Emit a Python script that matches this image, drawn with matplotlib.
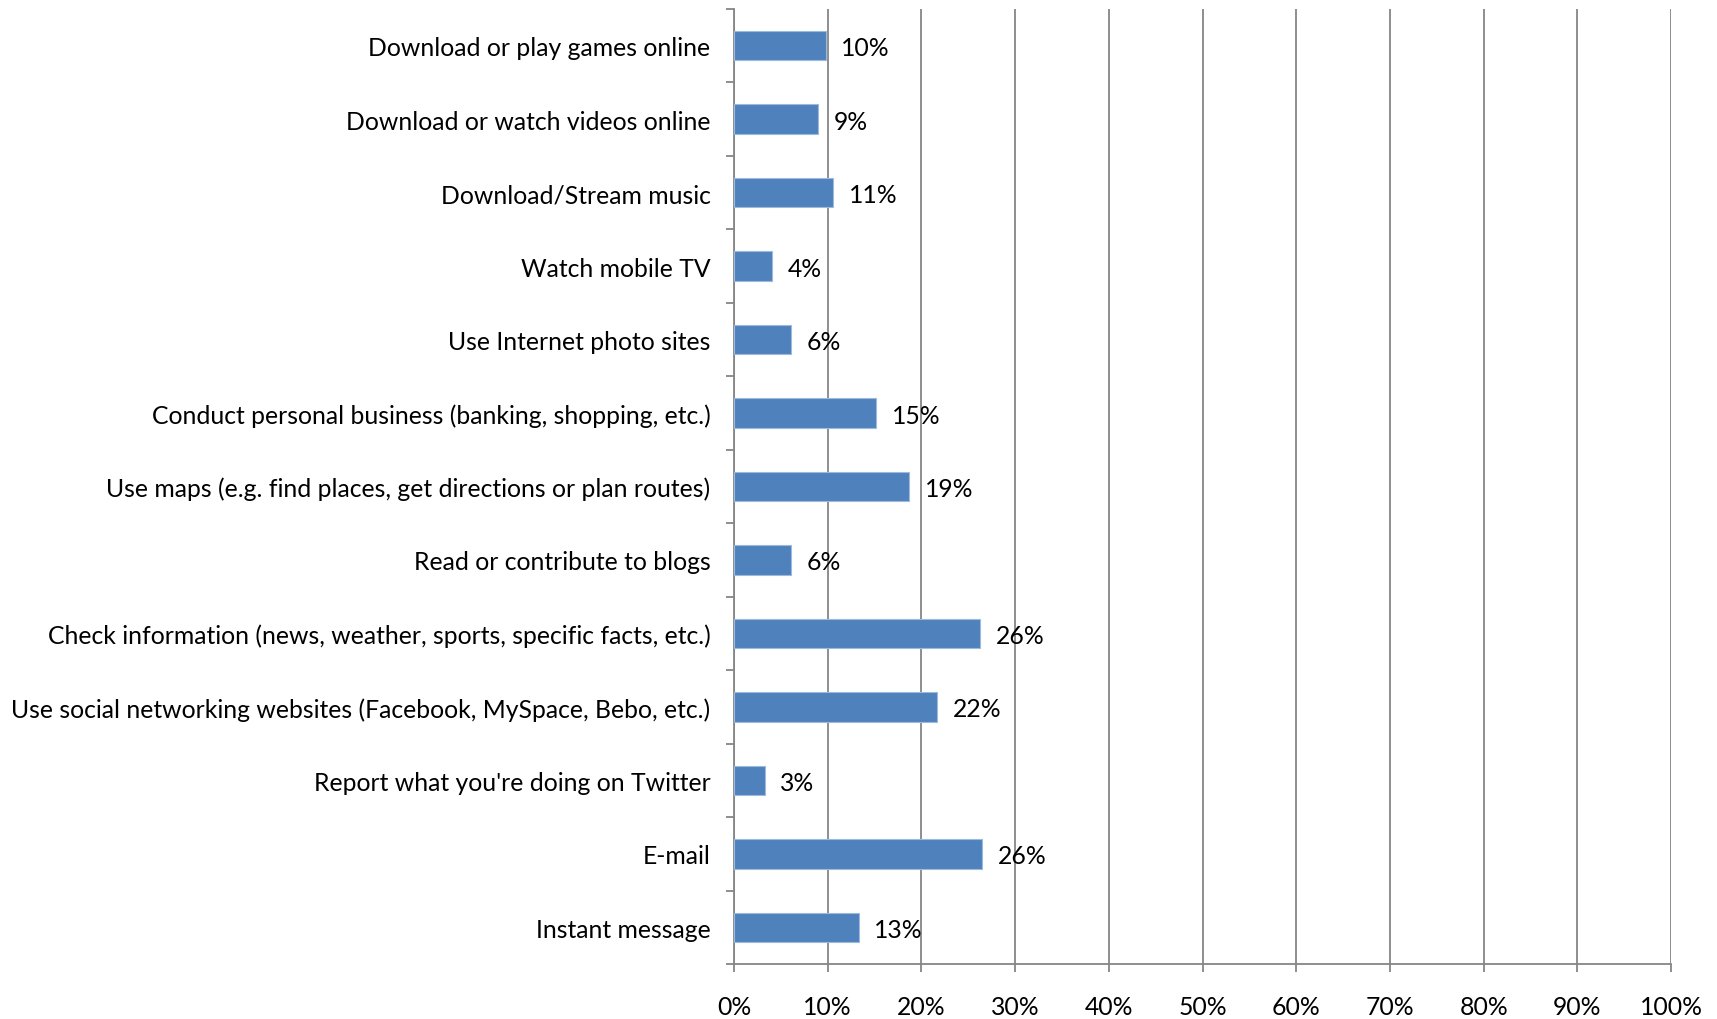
import numpy as np
import matplotlib.pyplot as plt
from matplotlib.ticker import FixedLocator, PercentFormatter

# categories from top to bottom
categories = [
    "Download or play games online",
    "Download or watch videos online",
    "Download/Stream music",
    "Watch mobile TV",
    "Use Internet photo sites",
    "Conduct personal business (banking, shopping, etc.)",
    "Use maps (e.g. find places, get directions or plan routes)",
    "Read or contribute to blogs",
    "Check information (news, weather, sports, specific facts, etc.)",
    "Use social networking websites (Facebook, MySpace, Bebo, etc.)",
    "Report what you're doing on Twitter",
    "E-mail",
    "Instant message",
]
values = [9.8, 9.0, 10.6, 4.1, 6.1, 15.2, 18.7, 6.1, 26.3, 21.7, 3.3, 26.5, 13.3]
labels = ["10%", "9%", "11%", "4%", "6%", "15%", "19%", "6%", "26%", "22%", "3%", "26%", "13%"]
x_ticks = list(range(0, 101, 10))

plt.rcParams['font.family'] = ['Lato', 'DejaVu Sans']

BAR = '#4F81BD'
GRID = '#868686'
FS = 17.8

fig = plt.figure(figsize=(17.17, 10.20), dpi=100)
ax = fig.add_axes([0.4275, 0.0539, 0.5458, 0.9363])

n = len(categories)
y = np.arange(n)[::-1]  # first category at top
ax.barh(y, values, height=0.4, color=BAR, edgecolor='#9DB9DC', linewidth=0.8, zorder=3)

for yi, v, lab in zip(y, values, labels):
    ax.annotate(lab, (v, yi), xytext=(11, 0), textcoords='offset points',
                va='center_baseline', ha='left', fontsize=FS)

ax.set_xlim(0, 100)
ax.set_ylim(-0.5, n - 0.5)

ax.xaxis.set_major_locator(FixedLocator(x_ticks))
ax.xaxis.set_major_formatter(PercentFormatter(decimals=0))
ax.grid(axis='x', color=GRID, linewidth=1.3, zorder=0)

# y ticks at category boundaries, labels at centers
ax.yaxis.set_major_locator(FixedLocator(np.arange(-0.5, n, 1.0)))
ax.yaxis.set_major_formatter(plt.NullFormatter())
ax.yaxis.set_minor_locator(FixedLocator(y))
ax.set_yticklabels(categories, minor=True)
ax.tick_params(axis='y', which='major', length=6, width=1.3, color=GRID)
ax.tick_params(axis='y', which='minor', length=0, pad=17, labelsize=FS)
ax.tick_params(axis='x', which='major', length=6, width=1.3, color=GRID, pad=16, labelsize=FS)

for s in ['top', 'right']:
    ax.spines[s].set_visible(False)
for s in ['left', 'bottom']:
    ax.spines[s].set_color(GRID)
    ax.spines[s].set_linewidth(1.3)

fig.savefig('out.png', dpi=100, facecolor='white')
